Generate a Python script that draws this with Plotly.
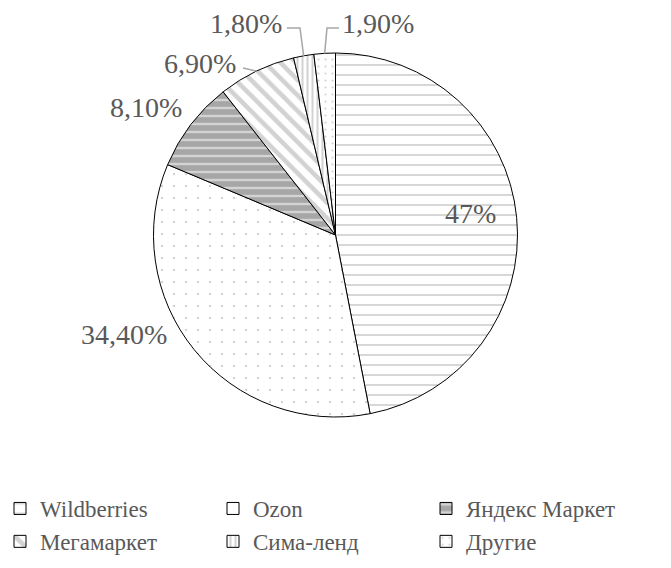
import math
import plotly.graph_objects as go

# ---- data ----
labels = ["Wildberries", "Ozon", "Яндекс Маркет", "Мегамаркет", "Сима-ленд", "Другие"]
values = [47, 34.4, 8.1, 6.9, 1.8, 1.9]
texts = ["47%", "34,40%", "8,10%", "6,90%", "1,80%", "1,90%"]

# ---- styles ----
W, H = 671, 568
FONT = "Liberation Serif"
GRAY = "#a6a6a6"
TXT = "#595959"

shapes_p = ["-", ".", "-", "\\", "|", "."]
bgcolors = ["white", "white", GRAY, "white", "white", "white"]
fgcolors = ["#b0b0b0", GRAY, "white", GRAY, GRAY, GRAY]
sizes = [10, 12, 8, 11, 5, 7]
solidities = [0.2, 0.03, 0.3, 0.42, 0.4, 0.08]

# pie geometry (pixels)
CX, CY, R = 335.5, 235, 182

# label positions (pixels, text centre) and leader-line elbows
label_pos = [(471, 213), (124, 334), (146, 108), (200, 63), (246, 23), (378, 23)]
leader = {3: [(243, 68)], 4: [(287, 28), (300, 28)], 5: [(339, 28), (327, 28)]}

fig = go.Figure(go.Pie(
    labels=labels, values=values, textinfo="none",
    sort=False, direction="clockwise", rotation=0,
    marker=dict(
        colors=bgcolors,
        line=dict(color="black", width=1),
        pattern=dict(shape=shapes_p, bgcolor=bgcolors, fgcolor=fgcolors,
                     size=sizes, solidity=solidities, fillmode="overlay"),
    ),
    domain=dict(x=[(CX - R) / W, (CX + R) / W], y=[1 - (CY + R) / H, 1 - (CY - R) / H]),
    hoverinfo="label+percent",
))

def px2paper(p):
    return p[0] / W, 1 - p[1] / H

total = sum(values)
cum = 0.0
annotations = []
shapes = []
for i, (v, t) in enumerate(zip(values, texts)):
    mid = (cum + v / 2) / total
    cum += v
    ang = 2 * math.pi * mid
    edge = (CX + R * math.sin(ang), CY - R * math.cos(ang))
    lx, ly = px2paper(label_pos[i])
    annotations.append(dict(
        x=lx, y=ly, xref="paper", yref="paper", text=t, showarrow=False,
        xanchor="center", yanchor="middle",
        font=dict(family=FONT, size=28, color=TXT),
    ))
    if i in leader:
        pts = leader[i] + [edge]
        path = "M " + " L ".join(f"{px2paper(p)[0]},{px2paper(p)[1]}" for p in pts)
        shapes.append(dict(type="path", path=path, xref="paper", yref="paper",
                           line=dict(color=GRAY, width=1.5)))

fig.update_layout(
    width=W, height=H,
    margin=dict(l=0, r=0, t=0, b=0, autoexpand=False),
    paper_bgcolor="white", plot_bgcolor="white",
    font=dict(family=FONT, color=TXT),
    annotations=annotations,
    shapes=shapes,
    legend=dict(
        orientation="h", x=0.0, y=1 - 487 / H, xanchor="left", yanchor="top",
        entrywidth=168, entrywidthmode="pixels",
        font=dict(family=FONT, size=23, color=TXT),
        bgcolor="rgba(0,0,0,0)",
    ),
)

fig.write_html("out.html", config={"displayModeBar": False},
               post_script="document.body.style.margin='0';")
